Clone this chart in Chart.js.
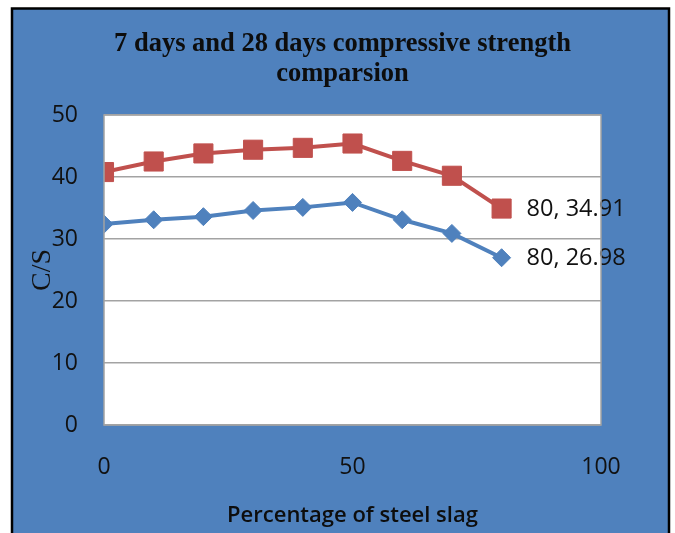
<!DOCTYPE html>
<html>
<head>
<meta charset="utf-8">
<script src="https://cdn.jsdelivr.net/npm/chart.js@4/dist/chart.umd.min.js"></script>
<style>
  body { margin: 0; background: #ffffff; }
  canvas { display: block; }
</style>
</head>
<body>
<canvas id="myChart" width="675" height="533"></canvas>
<script>
// steel slag percentage
const slag = [0, 10, 20, 30, 40, 50, 60, 70, 80];
// 7 days compressive strength
const days7 = [32.4, 33.1, 33.6, 34.6, 35.1, 35.9, 33.1, 30.9, 26.98];
// 28 days compressive strength
const days28 = [40.8, 42.5, 43.8, 44.4, 44.7, 45.4, 42.6, 40.2, 34.91];
const xTicks = [0, 50, 100];
const yTicks = [0, 10, 20, 30, 40, 50];
const titleLines = ["7 days and 28 days compressive strength", "comparsion"];

const BLUE = "#4f81bd";
const RED = "#c0504d";
const GRID = "#a3a3a3";

const barCanvas = document.getElementById("myChart");

function toPoints(vals) {
  let pts = [];
  for (let i = 0; i < vals.length; i++) {
    pts.push({ x: slag[i], y: vals[i] });
  }
  return pts;
}

// blue frame, white plot area
const backdrop = {
  id: "backdrop",
  beforeDraw(chart) {
    const ctx = chart.ctx;
    const a = chart.chartArea;
    ctx.save();
    ctx.fillStyle = "#ffffff";
    ctx.fillRect(0, 0, chart.width, chart.height);
    ctx.fillStyle = BLUE;
    ctx.fillRect(12, 9, 657, 600);
    ctx.strokeStyle = "#000000";
    ctx.lineWidth = 2.5;
    ctx.strokeRect(12, 8.5, 657, 600);
    ctx.fillStyle = "#ffffff";
    ctx.fillRect(a.left, a.top, a.right - a.left, a.bottom - a.top);
    ctx.restore();
  },
  afterDraw(chart) {
    const ctx = chart.ctx;
    const a = chart.chartArea;
    ctx.save();
    ctx.strokeStyle = GRID;
    ctx.lineWidth = 1.5;
    ctx.strokeRect(a.left, a.top, a.right - a.left, a.bottom - a.top);
    ctx.restore();
  }
};

// "x, y" label beside the last point of each series
const lastLabel = {
  id: "lastLabel",
  afterDatasetsDraw(chart) {
    const ctx = chart.ctx;
    ctx.save();
    ctx.font = "23.5px 'Open Sans'";
    ctx.fillStyle = "#111111";
    ctx.textAlign = "left";
    ctx.textBaseline = "middle";
    chart.data.datasets.forEach((ds, i) => {
      const meta = chart.getDatasetMeta(i);
      const n = ds.data.length - 1;
      const el = meta.data[n];
      ctx.fillText(ds.data[n].x + ", " + ds.data[n].y, el.x + 25, el.y + 1);
    });
    ctx.restore();
  }
};

const chart = new Chart(barCanvas, {
  type: "scatter",
  data: {
    datasets: [{
      label: "7 days",
      data: toPoints(days7),
      showLine: true,
      borderColor: BLUE,
      backgroundColor: BLUE,
      borderWidth: 4,
      pointStyle: "rectRot",
      pointRadius: 9,
      pointHoverRadius: 9,
      pointBorderWidth: 1
    }, {
      label: "28 days",
      data: toPoints(days28),
      showLine: true,
      borderColor: RED,
      backgroundColor: RED,
      borderWidth: 4,
      pointStyle: "rect",
      pointRadius: 13.5,
      pointHoverRadius: 13.5,
      pointBorderWidth: 1
    }]
  },
  options: {
    responsive: false,
    animation: false,
    events: [],
    layout: {
      padding: { left: 10, right: 0, top: 0, bottom: 0 }
    },
    scales: {
      x: {
        type: "linear",
        min: 0,
        max: 100,
        afterBuildTicks: (s) => { s.ticks = xTicks.map(v => ({ value: v })); },
        afterFit: (s) => { s.height = 108; },
        grid: { display: false, drawTicks: false },
        border: { display: false },
        ticks: {
          color: "#111111",
          padding: 29,
          maxRotation: 0,
          font: { family: "'Open Sans'", size: 23 }
        },
        title: {
          display: true,
          text: "Percentage of steel slag",
          color: "#0d0d0d",
          padding: { top: 0, bottom: 4 },
          font: { family: "'Open Sans'", size: 22, weight: "600" }
        }
      },
      y: {
        min: 0,
        max: 50,
        afterBuildTicks: (s) => { s.ticks = yTicks.map(v => ({ value: v })); },
        afterFit: (s) => { s.width = 94; },
        grid: { color: GRID, lineWidth: 1.5, drawTicks: false },
        border: { display: false },
        ticks: {
          color: "#111111",
          padding: 26,
          font: { family: "'Open Sans'", size: 23 }
        },
        title: {
          display: true,
          text: "C/S",
          color: "#111111",
          padding: { top: 16, bottom: 0 },
          font: { family: "'Liberation Serif'", size: 28 }
        }
      },
      // empty right margin that holds the end labels
      yRight: {
        position: "right",
        min: 0,
        max: 50,
        afterFit: (s) => { s.width = 74; },
        grid: { display: false, drawTicks: false },
        border: { display: false },
        ticks: { display: false }
      }
    },
    plugins: {
      legend: { display: false },
      tooltip: { enabled: false },
      title: {
        display: true,
        text: titleLines,
        color: "#0d0d0d",
        padding: { top: 29, bottom: 26 },
        font: { family: "'Liberation Serif'", size: 26.5, weight: "bold", lineHeight: 1.132 }
      }
    }
  },
  plugins: [backdrop, lastLabel]
});
</script>
</body>
</html>
